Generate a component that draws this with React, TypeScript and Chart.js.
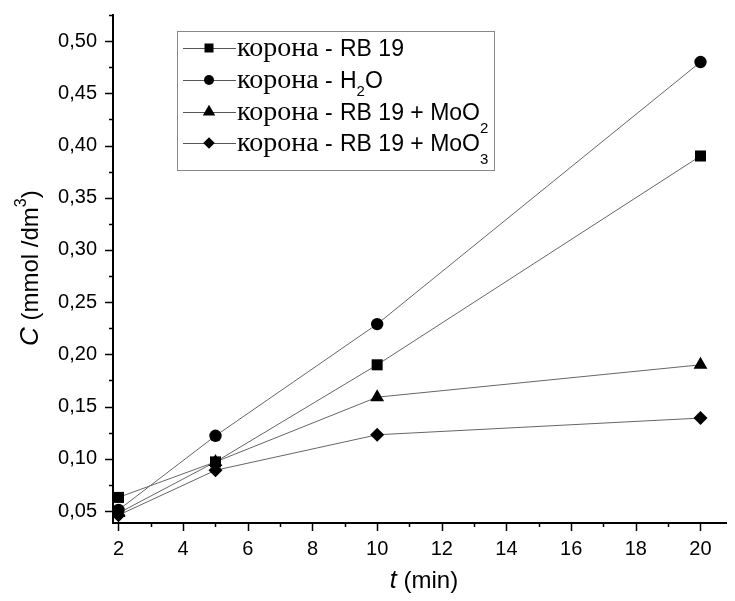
import React, { useEffect, useRef } from "react";
import { Chart, registerables } from "chart.js";

Chart.register(...registerables);

// ---- data ----
const timeMin = [2, 5, 10, 20];
const rb19 = [0.063, 0.097, 0.19, 0.39];
const h2o = [0.051, 0.122, 0.229, 0.48];
const rb19MoO2 = [0.048, 0.097, 0.159, 0.19];
const rb19MoO3 = [0.046, 0.089, 0.123, 0.139];

const seriesLabels = [
  "корона - RB 19",
  "корона - H2O",
  "корона - RB 19 + MoO2",
  "корона - RB 19 + MoO3",
];
const pointStyles = ["rect", "circle", "triangle", "rectRot"];

// legend text pieces: [main, subscript, tail]
const legendPieces: [string, string, string][] = [
  ["RB 19", "", ""],
  ["H", "2", "O"],
  ["RB 19 + MoO", "2", ""],
  ["RB 19 + MoO", "3", ""],
];
const legendPrefix = "корона";

const xTicks = [2, 4, 6, 8, 10, 12, 14, 16, 18, 20];
const yTicks = [0.05, 0.1, 0.15, 0.2, 0.25, 0.3, 0.35, 0.4, 0.45, 0.5];

const SANS = "'Liberation Sans', Arial, sans-serif";
const SERIF = "'Liberation Serif', 'Times New Roman', serif";

function drawMarker(ctx: CanvasRenderingContext2D, style: string, x: number, y: number, s: number) {
  ctx.beginPath();
  if (style === "rect") {
    ctx.rect(x - s / 2, y - s / 2, s, s);
  } else if (style === "circle") {
    ctx.arc(x, y, s / 2, 0, Math.PI * 2);
  } else if (style === "triangle") {
    const r = s / 1.732;
    ctx.moveTo(x, y - r);
    ctx.lineTo(x + s / 2, y + r / 2);
    ctx.lineTo(x - s / 2, y + r / 2);
    ctx.closePath();
  } else {
    ctx.moveTo(x, y - s / 2);
    ctx.lineTo(x + s / 2, y);
    ctx.lineTo(x, y + s / 2);
    ctx.lineTo(x - s / 2, y);
    ctx.closePath();
  }
  ctx.fill();
}

const axesPlugin = {
  id: "axesTicks",
  afterDraw(chart: any) {
    const { ctx, chartArea: a, scales } = chart;
    const x = scales.x;
    const y = scales.y;
    ctx.save();
    ctx.strokeStyle = "#000";
    ctx.lineWidth = 2;
    ctx.beginPath();
    ctx.moveTo(a.left, a.top);
    ctx.lineTo(a.left, a.bottom);
    ctx.lineTo(a.right, a.bottom);
    ctx.stroke();

    ctx.lineWidth = 1.5;
    // y ticks
    const yStep = yTicks[1] - yTicks[0];
    const yMinor: number[] = [];
    yTicks.forEach((v) => yMinor.push(v - yStep / 2));
    yMinor.push(yTicks[yTicks.length - 1] + yStep / 2);
    ctx.beginPath();
    yTicks.forEach((v) => {
      const p = Math.round(y.getPixelForValue(v)) + 0.5;
      ctx.moveTo(a.left - 8, p);
      ctx.lineTo(a.left, p);
    });
    yMinor.forEach((v) => {
      if (v < y.min || v > y.max + 1e-9) return;
      const p = Math.round(y.getPixelForValue(v)) + 0.5;
      ctx.moveTo(a.left - 4, p);
      ctx.lineTo(a.left, p);
    });
    // x ticks
    const xStep = xTicks[1] - xTicks[0];
    const xMinor: number[] = [];
    xTicks.forEach((v) => xMinor.push(v + xStep / 2));
    xTicks.forEach((v) => {
      const p = Math.round(x.getPixelForValue(v)) + 0.5;
      ctx.moveTo(p, a.bottom);
      ctx.lineTo(p, a.bottom + 8);
    });
    xMinor.forEach((v) => {
      if (v < x.min || v > x.max) return;
      const p = Math.round(x.getPixelForValue(v)) + 0.5;
      ctx.moveTo(p, a.bottom);
      ctx.lineTo(p, a.bottom + 4);
    });
    ctx.stroke();

    // axis titles
    ctx.fillStyle = "#000";
    ctx.textBaseline = "alphabetic";
    ctx.textAlign = "left";
    // x title
    ctx.font = `italic 25px ${SANS}`;
    const tW = ctx.measureText("t").width;
    ctx.font = `24px ${SANS}`;
    const restW = ctx.measureText(" (min)").width;
    const cx = (a.left + a.right) / 2 + 4;
    const sx = cx - (tW + restW) / 2;
    ctx.font = `italic 25px ${SANS}`;
    ctx.fillText("t", sx, 588);
    ctx.font = `24px ${SANS}`;
    ctx.fillText(" (min)", sx + tW, 588);

    // y title (rotated)
    ctx.save();
    ctx.translate(38, 346);
    ctx.rotate(-Math.PI / 2);
    let px = 0;
    ctx.font = `italic 26px ${SANS}`;
    ctx.fillText("C", px, 0);
    px += ctx.measureText("C").width;
    ctx.font = `24px ${SANS}`;
    ctx.fillText(" (mmol /dm", px, 0);
    px += ctx.measureText(" (mmol /dm").width;
    ctx.font = `16px ${SANS}`;
    ctx.fillText("3", px, -12);
    px += ctx.measureText("3").width;
    ctx.font = `24px ${SANS}`;
    ctx.fillText(")", px, 0);
    ctx.restore();

    // legend
    const box = { l: 177, t: 31, r: 494, b: 170 };
    ctx.strokeStyle = "#888";
    ctx.lineWidth = 1;
    ctx.strokeRect(box.l + 0.5, box.t + 0.5, box.r - box.l, box.b - box.t);
    const rowY = [48, 80, 112, 143];
    const markerSizes = [9, 10, 12.5, 11.5];
    legendPieces.forEach((pc, i) => {
      const my = rowY[i];
      ctx.strokeStyle = "#555";
      ctx.lineWidth = 1;
      ctx.beginPath();
      ctx.moveTo(183, my + 0.5);
      ctx.lineTo(236, my + 0.5);
      ctx.stroke();
      ctx.fillStyle = "#000";
      drawMarker(ctx, pointStyles[i], 209, my, markerSizes[i]);
      const base = my + 8;
      ctx.font = `28px ${SERIF}`;
      ctx.fillText(legendPrefix, 237, base);
      ctx.font = `23px ${SANS}`;
      ctx.fillText("-", 325, base);
      let tx = 340;
      ctx.fillText(pc[0], tx, base);
      tx += ctx.measureText(pc[0]).width;
      if (pc[1]) {
        ctx.font = `15px ${SANS}`;
        const dy = i === 1 ? 8 : 13;
        ctx.fillText(pc[1], tx, base + dy);
        tx += ctx.measureText(pc[1]).width;
      }
      if (pc[2]) {
        ctx.font = `23px ${SANS}`;
        ctx.fillText(pc[2], tx, base);
      }
    });
    ctx.restore();
  },
};

const seriesValues = [rb19, h2o, rb19MoO2, rb19MoO3];
const pointRadii = [7.8, 6.2, 8, 7];

export default function App() {
  const ref = useRef<HTMLCanvasElement>(null);
  useEffect(() => {
    if (!ref.current) return;
    const chart = new Chart(ref.current, {
      type: "scatter",
      data: {
        datasets: seriesValues.map((vals, i) => ({
          label: seriesLabels[i],
          data: timeMin.map((t, k) => ({ x: t, y: vals[k] })),
          showLine: true,
          borderColor: "#666",
          borderWidth: 1,
          backgroundColor: "#000",
          pointBackgroundColor: "#000",
          pointBorderColor: "#000",
          pointBorderWidth: 0,
          pointStyle: pointStyles[i] as any,
          pointRadius: pointRadii[i],
          pointHoverRadius: pointRadii[i],
        })),
      },
      options: {
        animation: false,
        responsive: true,
        maintainAspectRatio: false,
        layout: { padding: { top: 14, left: 0, right: 0, bottom: 0 } },
        plugins: { legend: { display: false }, tooltip: { enabled: false } },
        scales: {
          x: {
            type: "linear",
            min: 1.83,
            max: 20.82,
            grid: { display: false, drawTicks: false },
            border: { display: false },
            afterBuildTicks: (s: any) => {
              s.ticks = xTicks.map((v) => ({ value: v }));
            },
            ticks: {
              autoSkip: false,
              maxRotation: 0,
              padding: 14,
              color: "#000",
              font: { family: SANS, size: 20 },
              callback: (v: any) => String(v),
            },
            afterFit: (s: any) => {
              s.height = 78;
              s.paddingLeft = 0;
              s.paddingRight = 0;
            },
          },
          y: {
            type: "linear",
            min: 0.0385,
            max: 0.526,
            grid: { display: false, drawTicks: false },
            border: { display: false },
            afterBuildTicks: (s: any) => {
              s.ticks = yTicks.map((v) => ({ value: v }));
            },
            ticks: {
              autoSkip: false,
              padding: 16,
              color: "#000",
              font: { family: SANS, size: 20 },
              callback: (v: any) => Number(v).toFixed(2).replace(".", ","),
            },
            afterFit: (s: any) => {
              s.width = 113;
              s.paddingTop = 0;
              s.paddingBottom = 0;
            },
          },
        },
      },
      plugins: [axesPlugin],
    });
    return () => chart.destroy();
  }, []);
  return (
    <div style={{ position: "absolute", left: 0, top: 0, width: 735, height: 601, background: "#fff" }}>
      <canvas ref={ref} />
    </div>
  );
}
